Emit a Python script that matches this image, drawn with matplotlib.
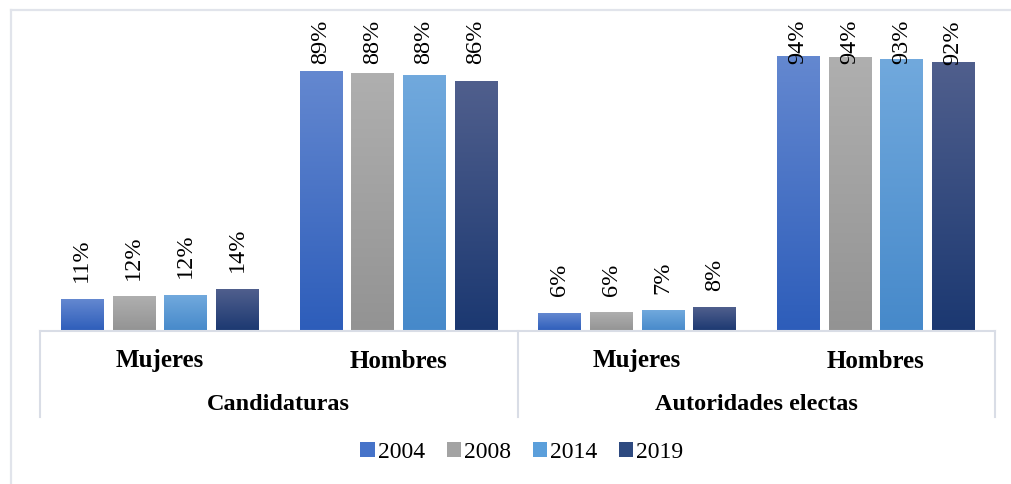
import numpy as np
import matplotlib
matplotlib.use("Agg")
import matplotlib.pyplot as plt
import matplotlib.transforms as mtransforms
from matplotlib.patches import Patch
from matplotlib.colors import LinearSegmentedColormap

plt.rcParams['font.family'] = ['Liberation Serif', 'DejaVu Serif']

# data (percent)
groups = ['Candidaturas', 'Autoridades electas']
sexes = ['Mujeres', 'Hombres']
years = ['2004', '2008', '2014', '2019']
cand_mujeres = [10.9, 11.8, 12.3, 14.4]
cand_hombres = [89.1, 88.2, 87.7, 85.6]
aut_mujeres = [6.0, 6.3, 7.0, 8.0]
aut_hombres = [94.0, 93.7, 93.0, 92.0]

# gradient colours per year (top, bottom)
grad = {'2004': ('#6488D0', '#2D5DBA'),
        '2008': ('#AFAFAF', '#939393'),
        '2014': ('#71A9DD', '#4689CA'),
        '2019': ('#505F8D', '#1B3871')}
mid = {'2004': '#4673C9', '2008': '#A3A3A3', '2014': '#5B9FDB', '2019': '#2E4A80'}

series = np.array([cand_mujeres, cand_hombres, aut_mujeres, aut_hombres]).T  # years x categories

W, H = 1011, 485
fig = plt.figure(figsize=(W / 100, H / 100), dpi=100)
ax = fig.add_axes([40 / W, 1 - 332 / H, (995 - 40) / W, (332 - 20) / H])

ymax = 107
step = 0.2166
bw = 0.176
x = np.arange(4)
gap = 6.2      # label gap above bar (data units)
lab_len = 16.5  # approx label length in data units

for i, yr in enumerate(years):
    cmap = LinearSegmentedColormap.from_list(yr, [grad[yr][1], grad[yr][0]])
    xs = x + (i - 1.5) * step
    for xc, h in zip(xs, series[i]):
        g = np.linspace(0, 1, 256).reshape(-1, 1)
        ax.imshow(g, cmap=cmap, origin='lower', aspect='auto',
                  extent=[xc - bw / 2, xc + bw / 2, 0, h], zorder=2)
        lab = f'{h:.0f}%'
        if h + gap + lab_len > ymax:
            ax.text(xc, ymax, lab, rotation=90, ha='center', va='top',
                    fontsize=17.5, clip_on=False, zorder=3)
        else:
            ax.text(xc, h + gap, lab, rotation=90, ha='center', va='bottom',
                    fontsize=17.5, clip_on=False, zorder=3)

ax.set_xlim(-0.5, 3.5)
ax.set_ylim(0, ymax)
ax.set_xticks([])
ax.set_yticks([])
for s in ['top', 'right', 'left']:
    ax.spines[s].set_visible(False)
ax.spines['bottom'].set_color('#D9DDE6')
ax.spines['bottom'].set_linewidth(1.5)
ax.patch.set_alpha(0)

# category axis separators
line_c = '#D9DDE6'
bottom_ax = 1 - 332 / H
sep_bottom = 1 - 418 / H
for xv in [-0.5, 1.5, 3.5]:
    xf = fig.transFigure.inverted().transform(ax.transData.transform((xv, 0)))[0]
    fig.add_artist(plt.Line2D([xf, xf], [sep_bottom, bottom_ax], color=line_c, lw=1.5))

# two-level category labels
lvl1 = ax.get_xaxis_transform() + mtransforms.ScaledTranslation(0, -29 / 100, fig.dpi_scale_trans)
lvl2 = ax.get_xaxis_transform() + mtransforms.ScaledTranslation(0, -73 / 100, fig.dpi_scale_trans)
for xc, s in zip(x, sexes * 2):
    ax.text(xc, 0, s, transform=lvl1, ha='center', va='center',
            fontsize=18, fontweight='bold')
for k, g in enumerate(groups):
    ax.text(2 * k + 0.5, 0, g, transform=lvl2, ha='center', va='center',
            fontsize=17.5, fontweight='bold')

# legend
handles = [Patch(facecolor=mid[y], edgecolor='none') for y in years]
fig.legend(handles, years, loc='center', bbox_to_anchor=(522 / W, 1 - 453 / H), ncol=4,
           frameon=False, fontsize=17, handlelength=0.6, handleheight=0.6,
           handletextpad=0.15, columnspacing=0.9)

# outer chart frame (left and top edges visible)
frame_c = '#E1E4EB'
fig.add_artist(plt.Line2D([11 / W, 11 / W], [0, 1 - 11 / H], color=frame_c, lw=1.6))
fig.add_artist(plt.Line2D([11 / W, 1], [1 - 11 / H, 1 - 11 / H], color=frame_c, lw=1.6))

fig.savefig('out.png', dpi=100)
